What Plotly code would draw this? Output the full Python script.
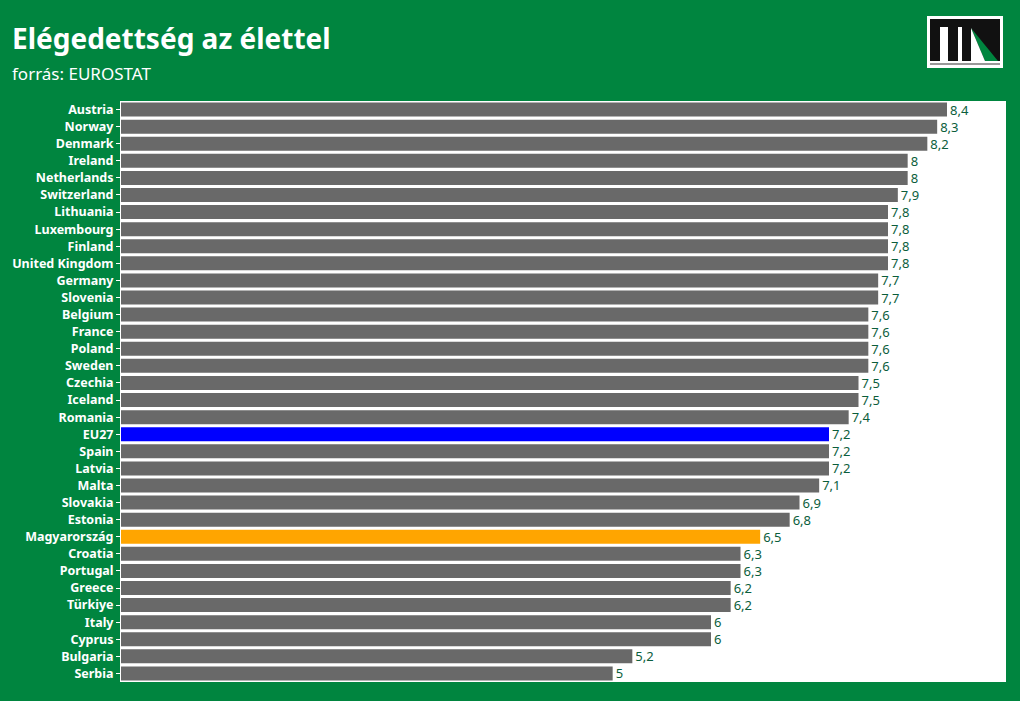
import plotly.graph_objects as go

countries = ["Austria", "Norway", "Denmark", "Ireland", "Netherlands", "Switzerland",
             "Lithuania", "Luxembourg", "Finland", "United Kingdom", "Germany", "Slovenia",
             "Belgium", "France", "Poland", "Sweden", "Czechia", "Iceland", "Romania",
             "EU27", "Spain", "Latvia", "Malta", "Slovakia", "Estonia", "Magyarország",
             "Croatia", "Portugal", "Greece", "Türkiye", "Italy", "Cyprus", "Bulgaria", "Serbia"]
values = [8.4, 8.3, 8.2, 8, 8, 7.9,
          7.8, 7.8, 7.8, 7.8, 7.7, 7.7,
          7.6, 7.6, 7.6, 7.6, 7.5, 7.5, 7.4,
          7.2, 7.2, 7.2, 7.1, 6.9, 6.8, 6.5,
          6.3, 6.3, 6.2, 6.2, 6, 6, 5.2, 5]

GREEN = "#00853F"
colors = []
for c in countries:
    if c == "EU27":
        colors.append("#0000FF")
    elif c == "Magyarország":
        colors.append("#FFA500")
    else:
        colors.append("#696969")

labels = [("%g" % v).replace(".", ",") for v in values]

fig = go.Figure(go.Bar(
    x=values, y=countries, orientation="h",
    marker=dict(color=colors, line=dict(width=0)),
    text=labels, textposition="outside", cliponaxis=False,
    constraintext="none",
    textfont=dict(color="#0B5E3C", size=13, family="Noto Sans"),
    hoverinfo="skip",
))

W, H = 1020, 701
L, R, T, B = 121, 14, 101, 19
pw, ph = W - L - R, H - T - B

def px(x):
    return (x - L) / pw

def py(y):
    return (H - B - y) / ph

shapes = []
def rect(x0, y0, x1, y1, color):
    shapes.append(dict(type="rect", xref="paper", yref="paper",
                       x0=px(x0), x1=px(x1), y0=py(y1), y1=py(y0),
                       fillcolor=color, line=dict(width=0), layer="above"))

# logo
rect(927, 16, 1003, 68, "white")
rect(930, 19, 1000, 27, "#111111")
rect(930, 19, 940, 61, "#111111")
rect(948, 19, 958, 61, "#111111")
rect(962, 19, 1000, 61, "#111111")
shapes.append(dict(type="path", xref="paper", yref="paper",
                   path="M %f,%f L %f,%f L %f,%f Z" % (px(971), py(28), px(998), py(61), px(985), py(61)),
                   fillcolor=GREEN, line=dict(width=0), layer="above"))
shapes.append(dict(type="path", xref="paper", yref="paper",
                   path="M %f,%f L %f,%f L %f,%f Z" % (px(971), py(28), px(985), py(61), px(971), py(61)),
                   fillcolor="white", line=dict(width=0), layer="above"))
rect(930, 63, 1000, 65, "#999999")

fig.update_layout(
    width=W, height=H,
    paper_bgcolor=GREEN, plot_bgcolor="white",
    margin=dict(l=L, r=R, t=T, b=B),
    bargap=0.18,
    showlegend=False,
    shapes=shapes,
    xaxis=dict(range=[0, 9], visible=False, showgrid=False, zeroline=False),
    yaxis=dict(autorange="reversed", ticks="outside", ticklen=4, tickcolor="white",
               tickfont=dict(color="white", size=12.5, family="Noto Sans"),
               showline=True, linecolor="white", linewidth=1, showgrid=False),
    annotations=[
        dict(text="<b>Elégedettség az élettel</b>", xref="paper", yref="paper",
             x=px(10), y=py(38), xanchor="left", yanchor="middle", showarrow=False,
             font=dict(color="white", size=28, family="Noto Sans")),
        dict(text="forrás: EUROSTAT", xref="paper", yref="paper",
             x=px(10), y=py(74), xanchor="left", yanchor="middle", showarrow=False,
             font=dict(color="white", size=17, family="Noto Sans")),
    ],
)
fig.update_yaxes(tickprefix="<b>", ticksuffix="</b>")

fig.write_html("out.html", config={"displayModeBar": False},
               post_script="document.body.style.margin='0';document.body.style.padding='0';")
